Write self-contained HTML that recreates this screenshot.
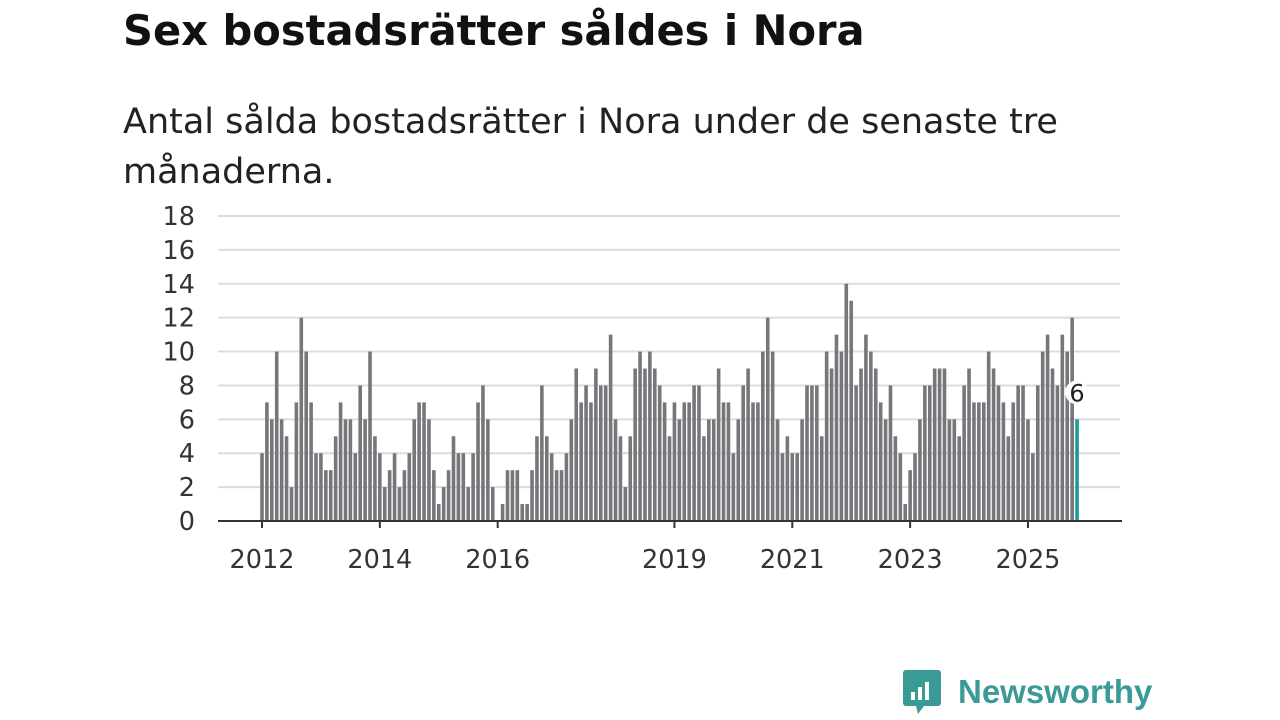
<!DOCTYPE html>
<html><head><meta charset="utf-8"><style>
body{margin:0;width:1280px;height:720px;background:#fff;font-family:"DejaVu Sans","Liberation Sans",sans-serif;overflow:hidden;position:relative}
#title{position:absolute;left:123px;top:6px;font-size:41.6px;font-weight:bold;color:#111;white-space:nowrap}
#sub{position:absolute;left:123px;top:97px;font-size:35px;line-height:50px;color:#222;width:1000px}
#logo{position:absolute;left:902px;top:668px;display:flex;align-items:center}
#logo span{font-family:"Liberation Sans",sans-serif;font-size:33px;font-weight:bold;color:#3a9a96;margin-left:16px}
</style></head><body>
<div id="title">Sex bostadsrätter såldes i Nora</div>
<div id="sub">Antal sålda bostadsrätter i Nora under de senaste tre månaderna.</div>
<svg id="chart" width="1280" height="720" style="position:absolute;left:0;top:0"></svg>
<div id="logo">
<svg width="40" height="48"><path d="M4 2h32a3 3 0 0 1 3 3v30a3 3 0 0 1-3 3H22l-6 8-2-8H4a3 3 0 0 1-3-3V5a3 3 0 0 1 3-3z" fill="#3a9a96"/><rect x="9" y="24" width="4" height="8" fill="#fff"/><rect x="16" y="19" width="4" height="13" fill="#fff"/><rect x="23" y="14" width="4" height="18" fill="#fff"/></svg>
<span>Newsworthy</span></div>
<script>
const values=[4,7,6,10,6,5,2,7,12,10,7,4,
4,3,3,5,7,6,6,4,8,6,10,5,
4,2,3,4,2,3,4,6,7,7,6,3,
1,2,3,5,4,4,2,4,7,8,6,2,
0,1,3,3,3,1,1,3,5,8,5,4,
3,3,4,6,9,7,8,7,9,8,8,11,
6,5,2,5,9,10,9,10,9,8,7,5,
7,6,7,7,8,8,5,6,6,9,7,7,
4,6,8,9,7,7,10,12,10,6,4,5,
4,4,6,8,8,8,5,10,9,11,10,14,13,8,9,11,
10,9,7,6,8,5,4,1,3,4,6,8,8,9,9,9,6,6,5,8,9,7,7,7,10,9,8,7,5,7,8,8,6,4,8,10,11,9,8,11,10,12,6];
const yTicks=[0,2,4,6,8,10,12,14,16,18];
const xTickLabels=["2012","2014","2016","2019","2021","2023","2025"];
const xTickIndex=[0,24,48,84,108,132,156];
const NS="http://www.w3.org/2000/svg";
const svg=document.getElementById('chart');
const x0=262,step=4.91,y0=521,yMax=18,yTop=216;
const FONT='DejaVu Sans, Liberation Sans, sans-serif';
const xs=i=>x0+i*step;
const ys=v=>y0-(v/yMax)*(y0-yTop);
function mk(t,a){const e=document.createElementNS(NS,t);for(const k in a)e.setAttribute(k,a[k]);svg.appendChild(e);return e;}
yTicks.forEach(v=>{
 if(v>0){const g=mk('line',{x1:218,x2:1120,y1:ys(v),y2:ys(v),stroke:'#dcdcdc','stroke-width':2});
 
 }
 const t=mk('text',{x:195,y:ys(v)+9,'text-anchor':'end','font-size':25.5,fill:'#333','font-family':FONT});
 t.textContent=v;
 
 
});
values.forEach((v,i)=>{
 const last=i===values.length-1;
 const r=mk('rect',{x:xs(i)-1.8,y:ys(v),width:3.6,height:y0-ys(v),fill:last?'#1a9a94':'#77767b'});
 
 
});
const ax=mk('line',{x1:218,x2:1122,y1:y0,y2:y0,stroke:'#333','stroke-width':2});


xTickLabels.forEach((l,k)=>{
 const x=xs(xTickIndex[k]);
 const tk=mk('line',{x1:x,x2:x,y1:y0,y2:y0+7,stroke:'#333','stroke-width':2});
 
 
 const t=mk('text',{x:x,y:568,'text-anchor':'middle','font-size':25.5,fill:'#333','font-family':FONT});
 t.textContent=l;
 
 
});
const li=values.length-1;
const c=mk('circle',{cx:xs(li),cy:ys(values[li])-27,r:12,fill:'#fff'});


const vl=mk('text',{x:xs(li),y:ys(values[li])-18,'text-anchor':'middle','font-size':24,fill:'#222','font-family':FONT});
vl.textContent=values[li];


</script>
</body></html>
